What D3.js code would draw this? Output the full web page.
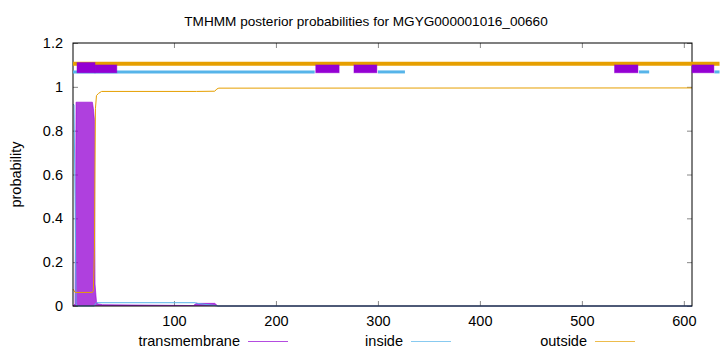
<!DOCTYPE html>
<html>
<head>
<meta charset="utf-8">
<script src="https://cdn.jsdelivr.net/npm/d3@7"></script>
<style>
  body { margin: 0; background: #fff; }
  text { font-family: "Liberation Sans", Arial, sans-serif; }
</style>
</head>
<body>
<div id="chart"></div>
<script>
// ---- data ----
var seqLength = 608
var xTicks = [100, 200, 300, 400, 500, 600]
var yTicks = [0, 0.2, 0.4, 0.6, 0.8, 1, 1.2]

// posterior curves: [position, probability]
var tmCurve = [[1, 0], [3, 0.01], [4, 0.93], [20, 0.93], [21, 0.9], [22, 0.85], [22.6, 0.1], [24, 0.02],
  [25, 0.01], [30, 0.006], [119, 0.002], [122, 0.012], [140, 0.012], [143, 0], [608, 0]]
var insideCurve = [[1, 0.92], [2, 0.918], [3, 0.5], [4, 0.01], [5, 0], [22, 0], [23, 0.01], [24, 0.015],
  [121, 0.015], [123, 0.012], [140, 0.002], [143, 0], [608, 0]]
var outsideCurve = [[1, 0.077], [2, 0.07], [3, 0.062], [20, 0.062], [21, 0.07], [22, 0.25], [23, 0.9],
  [24, 0.96], [26, 0.97], [29, 0.979], [122, 0.979], [140, 0.98], [142, 0.99], [144, 0.994], [608, 0.995]]

// topology bars above the curves: [start, end]
var outsideBar = [[1, 635]]
var insideBar = [[1, 238], [300, 326.5], [556, 566], [630, 635]]
var tmBoxes = [[4.9, 22.6, 1.111], [22.6, 44, 1.1], [239, 262, 1.1], [276.5, 299, 1.1], [532, 555, 1.1], [608, 629.5, 1.1]]

var legendNames = ["transmembrane", "inside", "outside"]

function draw() {
  var colTM = "#9400d3", colIn = "#56b4e9", colOut = "#e69f00"

  var width = 720, height = 352
  var mLeft = 73, mRight = 692, mTop = 43, mBottom = 306

  var svg = d3.select("#chart").append("svg")
    .attr("width", width).attr("height", height)

  var x = d3.scaleLinear().domain([1, seqLength]).range([mLeft, mRight])
  var y = d3.scaleLinear().domain([0, 1.2]).range([mBottom, mTop])

  // title
  svg.append("text")
    .attr("x", 366).attr("y", 26)
    .attr("text-anchor", "middle")
    .style("font-size", "13.6px")
    .text("TMHMM posterior probabilities for MGYG000001016_00660")

  // y label
  svg.append("text")
    .attr("transform", "translate(21," + ((mTop + mBottom) / 2) + ") rotate(-90)")
    .attr("text-anchor", "middle")
    .style("font-size", "14.5px")
    .text("probability")

  // axes, gnuplot-style ticks pointing inward
  var xAxis = svg.append("g")
    .attr("transform", "translate(0," + mBottom + ")")
    .call(d3.axisBottom(x).tickValues(xTicks).tickSize(-5).tickPadding(10).tickFormat(d3.format("d")))
  xAxis.select(".domain").remove()
  var xTop = svg.append("g")
    .attr("transform", "translate(0," + mTop + ")")
    .call(d3.axisTop(x).tickValues(xTicks).tickSize(-5).tickFormat(""))
  xTop.select(".domain").remove()
  var yAxis = svg.append("g")
    .attr("transform", "translate(" + mLeft + ",0)")
    .call(d3.axisLeft(y).tickValues(yTicks).tickSize(-5).tickPadding(10).tickFormat(d3.format("")))
  yAxis.select(".domain").remove()
  var yRight = svg.append("g")
    .attr("transform", "translate(" + mRight + ",0)")
    .call(d3.axisRight(y).tickValues(yTicks).tickSize(-5).tickFormat(""))
  yRight.select(".domain").remove()
  svg.selectAll(".tick text").style("font-size", "14.5px").attr("fill", "#000")
  svg.selectAll(".tick line").attr("stroke", "#888")

  // curves
  var line = d3.line().x(function (d) { return x(d[0]) }).y(function (d) { return y(d[1]) })
  var area = d3.area().x(function (d) { return x(d[0]) }).y0(y(0)).y1(function (d) { return y(d[1]) })

  svg.append("path").datum(tmCurve)
    .attr("d", area).attr("fill", colTM).attr("fill-opacity", 0.75)
  svg.append("path").datum(tmCurve)
    .attr("d", line).attr("fill", "none").attr("stroke", colTM).attr("stroke-opacity", 0.6).attr("stroke-width", 1)
  svg.append("path").datum(insideCurve)
    .attr("d", line).attr("fill", "none").attr("stroke", colIn).attr("stroke-width", 1)
  svg.append("path").datum(outsideCurve)
    .attr("d", line).attr("fill", "none").attr("stroke", colOut).attr("stroke-width", 1)

  // frame
  svg.append("rect")
    .attr("x", mLeft).attr("y", mTop)
    .attr("width", mRight - mLeft).attr("height", mBottom - mTop)
    .attr("fill", "none").attr("stroke", "#000").attr("stroke-width", 1)

  // topology bars (not clipped, as in the reference)
  svg.selectAll(".outbar").data(outsideBar).enter().append("line")
    .attr("x1", function (d) { return x(d[0]) }).attr("x2", function (d) { return x(d[1]) })
    .attr("y1", y(1.105)).attr("y2", y(1.105))
    .attr("stroke", colOut).attr("stroke-width", 4)
  svg.selectAll(".inbar").data(insideBar).enter().append("line")
    .attr("x1", function (d) { return x(d[0]) }).attr("x2", function (d) { return x(d[1]) })
    .attr("y1", y(1.068)).attr("y2", y(1.068))
    .attr("stroke", colIn).attr("stroke-width", 3)
  svg.selectAll(".tmbox").data(tmBoxes).enter().append("rect")
    .attr("x", function (d) { return x(d[0]) })
    .attr("width", function (d) { return x(d[1]) - x(d[0]) })
    .attr("y", function (d) { return y(d[2]) })
    .attr("height", function (d) { return y(1.064) - y(d[2]) })
    .attr("fill", colTM).attr("stroke", colTM).attr("stroke-opacity", 0.4).attr("stroke-width", 1)

  // legend
  var legendX = [240, 403, 587]
  var legendCol = [colTM, colIn, colOut]
  legendNames.forEach(function (name, i) {
    svg.append("text")
      .attr("x", legendX[i]).attr("y", 346)
      .attr("text-anchor", "end")
      .style("font-size", "14.5px")
      .text(name)
    svg.append("line")
      .attr("x1", legendX[i] + 8).attr("x2", legendX[i] + 48)
      .attr("y1", 341.5).attr("y2", 341.5)
      .attr("stroke", legendCol[i]).attr("stroke-opacity", 0.7).attr("stroke-width", 1)
  })
}
draw()
</script>
</body>
</html>
